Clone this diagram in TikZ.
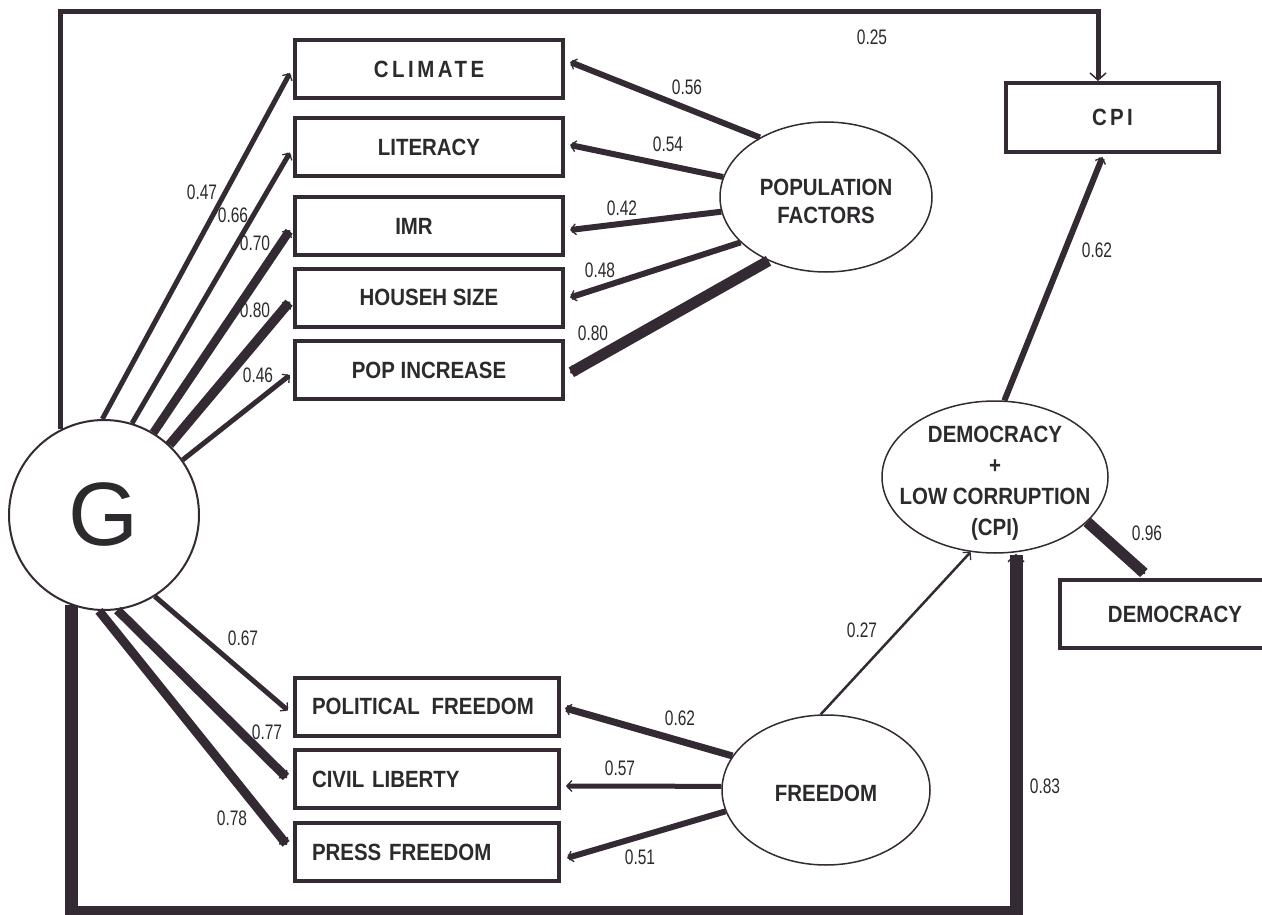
\documentclass[tikz,border=0pt]{standalone}
\usepackage{fontspec}
\setmainfont{Liberation Sans}
\newfontfamily\lblfont[FakeStretch=0.87]{Liberation Sans}
\newfontfamily\numfont[FakeStretch=0.74]{Liberation Sans}
\usetikzlibrary{arrows.meta,shapes.geometric,calc}
\definecolor{lc}{RGB}{52,42,51}
\definecolor{tc}{RGB}{45,42,45}
\pgfdeclarelayer{bg}
\pgfsetlayers{bg,main}
\tikzset{
  boxnode/.style={rectangle, draw=lc, line width=4pt, fill=white, inner sep=0pt,
    minimum width=268pt, minimum height=58pt, text=tc,
    font=\lblfont\bfseries\fontsize{23.5}{27}\selectfont},
  leftbox/.style={boxnode, minimum width=264pt, text width=230pt, align=left, inner xsep=17pt},
  latent/.style={ellipse, draw=lc, line width=1.5pt, fill=white, inner sep=0pt},
  lattext/.style={text=tc, align=center, font=\lblfont\bfseries\fontsize{23.5}{28}\selectfont},
  num/.style={text=tc, inner sep=0pt, font=\numfont\fontsize{21}{21}\selectfont},
  arr/.style={draw=lc, line cap=butt, -{Straight Barb[length=5pt,width=11pt,line width=1.3pt]}},
  framearr/.style={draw=lc, line join=miter, -{Straight Barb[length=7pt,width=16pt,line width=1.5pt]}},
}
\begin{document}
\begin{tikzpicture}[x=1pt,y=-1pt]
\useasboundingbox (0,0) rectangle (1262,915);

% observed variables
\node[boxnode] (climate) at (429,69) {\addfontfeature{LetterSpace=15}CLIMATE};
\node[boxnode] (literacy) at (429,147.5) {LITERACY};
\node[boxnode] (imr) at (429,226) {\hspace*{-30pt}IMR};
\node[boxnode] (househ) at (429,297.5) {HOUSEH SIZE};
\node[boxnode] (popinc) at (429,370) {POP INCREASE};
\node[leftbox] (polfree) at (427,706.5) {POLITICAL\ \,FREEDOM};
\node[leftbox] (civlib) at (427,779) {CIVIL LIBERTY};
\node[leftbox] (pressfree) at (427,852) {PRESS FREEDOM};
\node[boxnode, minimum width=213pt, minimum height=69pt] (cpi) at (1112.5,117.5) {\addfontfeature{LetterSpace=14}CPI};
\node[boxnode, minimum width=230pt, minimum height=68pt] (demb) at (1175,614) {DEMOCRACY};

% latent variables
\node[circle, draw=lc, line width=2pt, fill=white, minimum size=190pt, inner sep=0pt,
  text=tc, font=\fontsize{90}{90}\selectfont] (G) at (104,515) {G};
\node[latent, minimum width=212pt, minimum height=150pt,
  label={[lattext, yshift=-4pt]center:POPULATION\\FACTORS}] (pop) at (826,197) {};
\node[latent, minimum width=208pt, minimum height=150pt,
  label={[lattext, yshift=-3pt]center:FREEDOM}] (free) at (826,790) {};
\node[latent, minimum width=226pt, minimum height=152pt,
  label={[lattext, yshift=-6pt, font=\lblfont\bfseries\fontsize{23.5}{31}\selectfont]center:DEMOCRACY\\+\\LOW CORRUPTION\\(CPI)}] (dem) at (995,477) {};

\coordinate (tl) at (60.5,12);
\coordinate (tr) at (1098,12);
\coordinate (bl) at (71.5,912);
\coordinate (br) at (1016,912);

\begin{pgfonlayer}{bg}
\fill[white] (0,0) rectangle (1262,915);
% frame paths
\draw[framearr, line width=5pt] (tl |- G.117) -- (tl) -- (tr) -- (tr |- cpi.north);
\draw[framearr, line width=13pt] (bl |- G.-110) -- (bl) -- (br) -- (br |- dem.south);
\end{pgfonlayer}

% G -> indicators
\draw[arr, line width=5pt] (G.91) -- ($(climate.west)+(-3,4)$);
\draw[arr, line width=5pt] (G.73) -- ($(literacy.west)+(-3,5)$);
\draw[arr, line width=8.5pt] (G.59) -- ($(imr.west)+(-3,4)$);
\draw[arr, line width=9.5pt] (G.47) -- ($(househ.west)+(-3,4)$);
\draw[arr, line width=5pt] (G.35) -- ($(popinc.west)+(-3,5)$);
\draw[arr, line width=5pt] (G.-58) -- ($(polfree.west)+(-5,4)$);
\draw[arr, line width=9pt] (G.-82) -- ($(civlib.west)+(-6,-1)$);
\draw[arr, line width=9pt] (G.-93) -- ($(pressfree.west)+(-6,-7)$);

% population factors -> indicators
\draw[arr, line width=6pt] (pop.138) -- ($(climate.east)+(5,-7)$);
\draw[arr, line width=6pt] (pop.169) -- ($(literacy.east)+(5,-2.5)$);
\draw[arr, line width=6pt] (pop.188) -- ($(imr.east)+(5,4)$);
\draw[arr, line width=6pt] (pop.208) -- ($(househ.east)+(5,0)$);
\draw[arr, line width=11pt] (pop.228) -- ($(popinc.east)+(5,3)$);

% freedom -> indicators
\draw[arr, line width=7pt] (free.160) -- ($(polfree.east)+(4,1.5)$);
\draw[arr, line width=5pt] (free.178) -- ($(civlib.east)+(5,7)$);
\draw[arr, line width=6pt] (free.192) -- ($(pressfree.east)+(6,6)$);

% structural paths
\draw[arr, line width=2.5pt] (free.94) -- (dem.252);
\draw[arr, line width=11pt] (dem.-26) -- ($(demb.north)+(-30,-4)$);
\draw[arr, line width=6pt] (dem.83) -- ($(cpi.south)+(-10,3)$);

% coefficients
\node[num] (n047) at (202,192) {0.47};
\node[num] (n066) at (233,215) {0.66};
\node[num] (n070) at (255,243) {0.70};
\node[num] (n080a) at (255,310) {0.80};
\node[num] (n046) at (258,375) {0.46};
\node[num] (n056) at (687,87) {0.56};
\node[num] (n054) at (668,144) {0.54};
\node[num] (n042) at (622,208) {0.42};
\node[num] (n048) at (600,270) {0.48};
\node[num] (n080b) at (593,333) {0.80};
\node[num] (n067) at (243,638) {0.67};
\node[num] (n077) at (267,732) {0.77};
\node[num] (n078) at (232,818) {0.78};
\node[num] (n062a) at (680,718) {0.62};
\node[num] (n057) at (620,768) {0.57};
\node[num] (n051) at (640,857) {0.51};
\node[num] (n027) at (862,630) {0.27};
\node[num] (n096) at (1147,533) {0.96};
\node[num] (n062b) at (1097,250) {0.62};
\node[num] (n025) at (872,37) {0.25};
\node[num] (n083) at (1045,786) {0.83};
\end{tikzpicture}
\end{document}
